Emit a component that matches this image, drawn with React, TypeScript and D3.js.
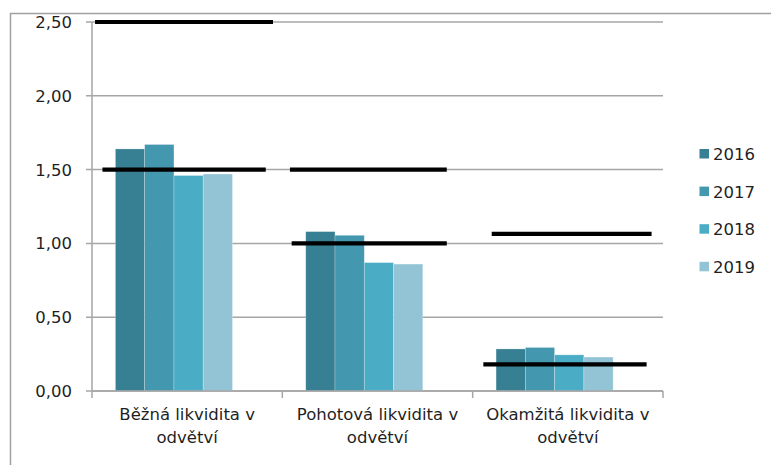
import React from "react";
import * as d3 from "d3";

// Liquidity ratios by category and year
const categories = ["Běžná likvidita v odvětví", "Pohotová likvidita v odvětví", "Okamžitá likvidita v odvětví"];
const years = ["2016", "2017", "2018", "2019"];
const values2016 = [1.64, 1.08, 0.285];
const values2017 = [1.67, 1.055, 0.295];
const values2018 = [1.46, 0.87, 0.245];
const values2019 = [1.47, 0.86, 0.23];
const seriesValues = [values2016, values2017, values2018, values2019];
const seriesColors = ["#378093", "#4397ae", "#4bacc6", "#93c4d5"];

// Recommended range markers: value and span measured in category units
const markerValues = [2.5, 1.5, 1.5, 1.0, 1.065, 0.18];
const markerStarts = [0.016, 0.055, 1.04, 1.049, 2.1, 2.056];
const markerEnds = [0.951, 0.913, 1.864, 1.864, 2.94, 2.914];

const yTicks = [0, 0.5, 1, 1.5, 2, 2.5];

const W = 771;
const H = 465;
const left = 92;
const right = 663;
const top = 22;
const bottom = 391;
const font = "'DejaVu Sans', Verdana, sans-serif";
const fontSize = 16.5;
const textColor = "#1f1f1f";
const gridColor = "#a6a6a6";

const fmt = (v: number) => v.toFixed(2).replace(".", ",");

export default function App() {
  const y = d3.scaleLinear().domain([0, 2.5]).range([bottom, top]);
  const xCat = d3.scaleLinear().domain([0, categories.length]).range([left, right]);
  const x0 = d3.scaleBand<string>().domain(categories).range([left, right]).paddingInner(0).paddingOuter(0);
  const bw = x0.bandwidth();
  const x1 = d3.scaleBand<string>().domain(years).range([bw * 0.123, bw * 0.738]);

  return (
    <svg width={W} height={H} style={{ position: "absolute", left: 0, top: 0, background: "#fff" }}>
      {/* outer frame */}
      <rect x={10.5} y={13.5} width={900} height={600} fill="none" stroke="#a0a0a0" strokeWidth={1.5} />

      {/* gridlines and y ticks */}
      {yTicks.map((t) => (
        <g key={t}>
          <line x1={left - 6} x2={right} y1={y(t)} y2={y(t)} stroke={gridColor} strokeWidth={1.5} />
          <text
            x={72}
            y={y(t)}
            dy="0.36em"
            textAnchor="end"
            fontFamily={font}
            fontSize={fontSize}
            fill={textColor}
          >
            {fmt(t)}
          </text>
        </g>
      ))}

      {/* y axis */}
      <line x1={left} x2={left} y1={top} y2={bottom} stroke={gridColor} strokeWidth={1.5} />

      {/* bars */}
      {categories.map((c, ci) => (
        <g key={c} transform={`translate(${x0(c)},0)`}>
          {years.map((yr, si) => {
            const v = seriesValues[si][ci];
            return (
              <rect
                key={yr}
                x={x1(yr)}
                y={y(v)}
                width={x1.bandwidth()}
                height={bottom - y(v)}
                fill={seriesColors[si]}
                stroke="rgba(255,255,255,0.35)"
                strokeWidth={0.7}
              />
            );
          })}
        </g>
      ))}

      {/* x axis */}
      <line x1={left} x2={right} y1={bottom} y2={bottom} stroke={gridColor} strokeWidth={1.5} />
      {d3.range(categories.length + 1).map((i) => (
        <line key={i} x1={xCat(i)} x2={xCat(i)} y1={bottom} y2={bottom + 7} stroke={gridColor} strokeWidth={1.5} />
      ))}

      {/* range markers */}
      {markerValues.map((v, i) => (
        <line
          key={i}
          x1={xCat(markerStarts[i])}
          x2={xCat(markerEnds[i])}
          y1={y(v)}
          y2={y(v)}
          stroke="#000"
          strokeWidth={4.2}
        />
      ))}

      {/* category labels */}
      {categories.map((c) => {
        const cx = (x0(c) as number) + bw / 2;
        const idx = c.lastIndexOf(" ");
        const line1 = c.slice(0, idx);
        const line2 = c.slice(idx + 1);
        return (
          <text key={c} textAnchor="middle" fontFamily={font} fontSize={fontSize} fill={textColor}>
            <tspan x={cx} y={420}>{line1}</tspan>
            <tspan x={cx} y={443}>{line2}</tspan>
          </text>
        );
      })}

      {/* legend */}
      {years.map((yr, i) => {
        const cy = 154 + i * 37.6;
        return (
          <g key={yr}>
            <rect x={699.5} y={cy - 5} width={9.5} height={9.5} fill={seriesColors[i]} />
            <text x={713} y={cy} dy="0.36em" fontFamily={font} fontSize={fontSize} fill={textColor}>
              {yr}
            </text>
          </g>
        );
      })}
    </svg>
  );
}
